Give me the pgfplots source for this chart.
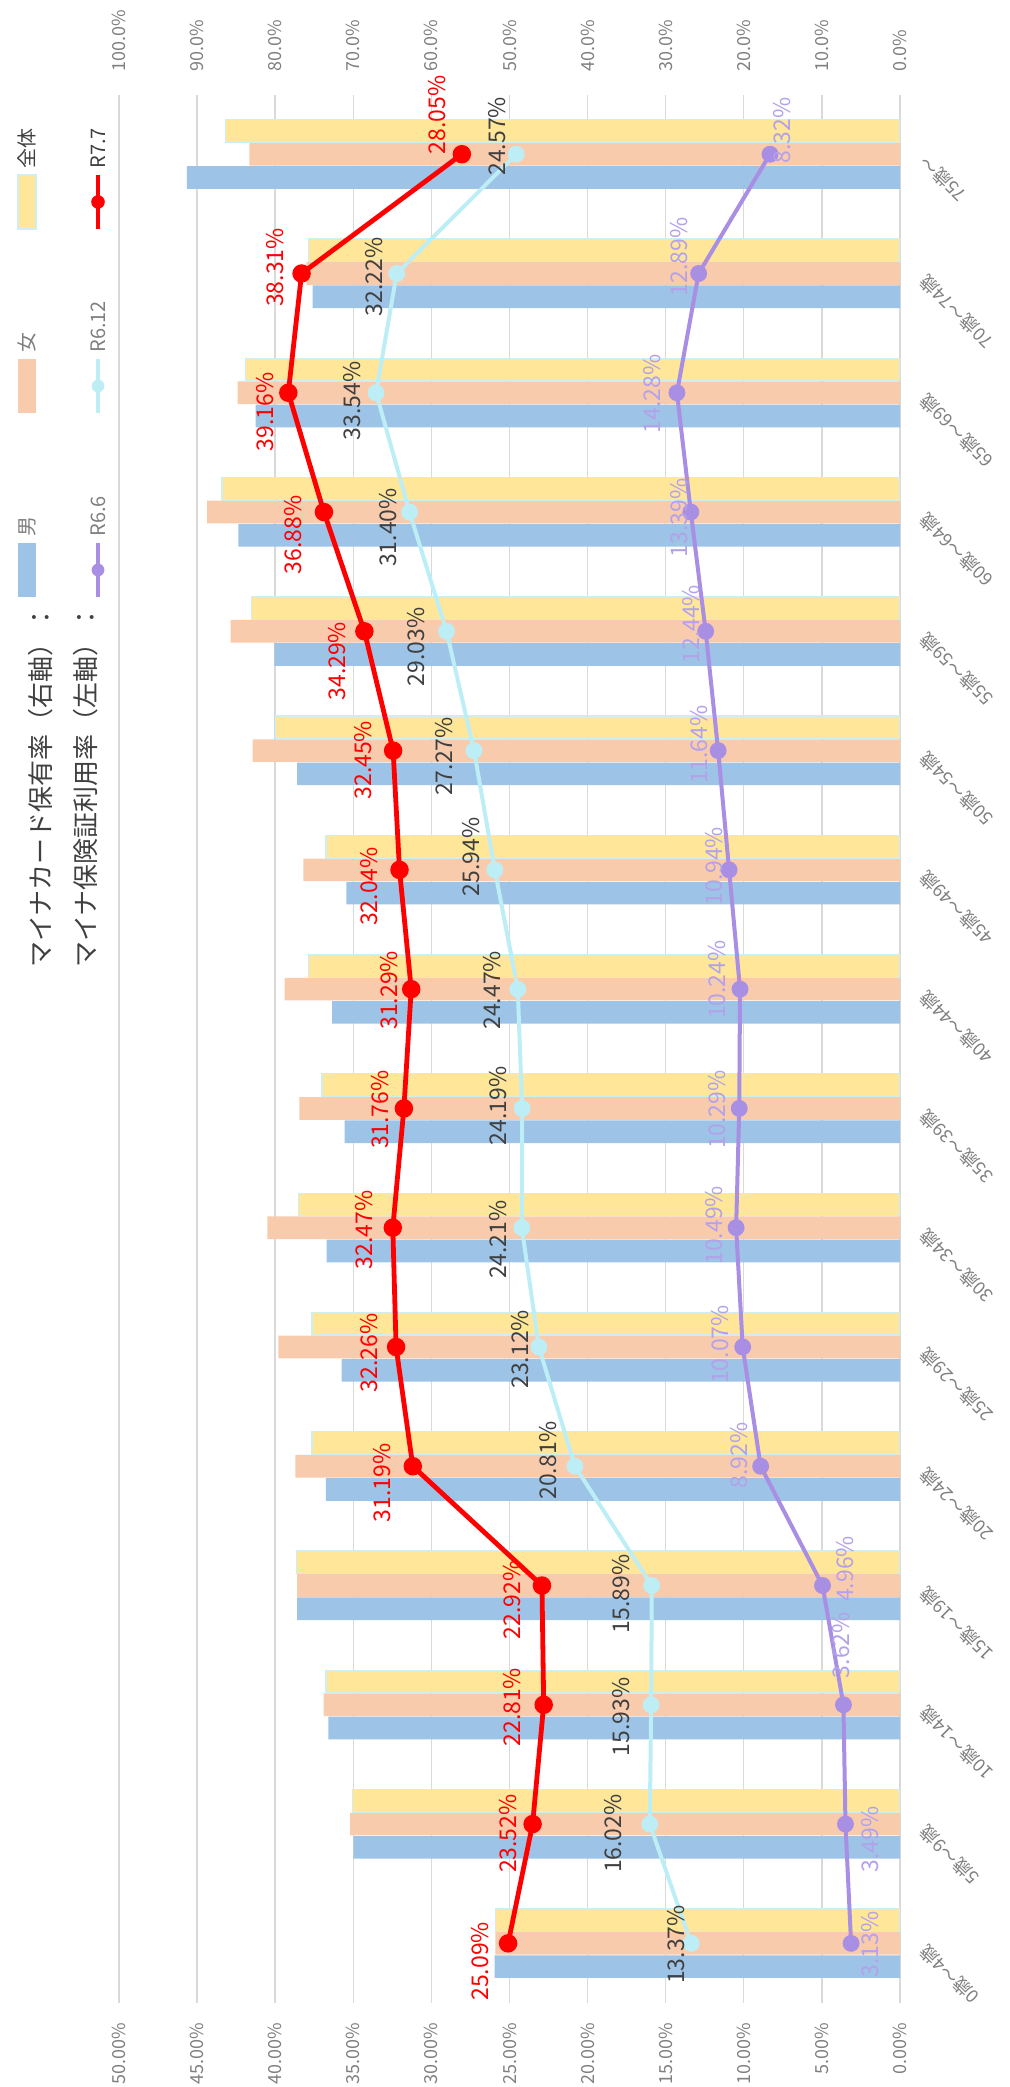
\documentclass[border=0pt]{standalone}
\usepackage{pgfplots}
\pgfplotsset{compat=1.18}
\usepackage{pgfplotstable}
\usepackage{fontspec}
\setmainfont{Noto Sans CJK JP}
\definecolor{cMale}{HTML}{9DC3E6}
\definecolor{cFemale}{HTML}{F8CBAD}
\definecolor{cAll}{HTML}{FFE699}
\definecolor{cAllEdge}{HTML}{CFEFEF}
\definecolor{cRseven}{HTML}{FF0000}
\definecolor{cRsixtw}{HTML}{BDEEF6}
\definecolor{cRsix}{HTML}{A98FE3}
\definecolor{cRsixtxt}{HTML}{B3A2EA}
\definecolor{cGrayTxt}{HTML}{404040}
\definecolor{cTick}{HTML}{808080}
\definecolor{cGrid}{HTML}{D9D9D9}
\newcommand\fs[1]{\fontsize{#1}{#1}\selectfont}

% card possession (right axis, %)
\pgfplotstableread{
cat male female all
0  51.9 51.8 51.8
1  70.0 70.4 70.1
2  73.2 73.8 73.5
3  77.2 77.2 77.3
4  73.5 77.4 75.3
5  71.5 79.6 75.3
6  73.4 81.0 77.0
7  71.1 76.9 74.0
8  72.7 78.8 75.7
9  70.9 76.4 73.5
10 77.2 82.9 80.0
11 80.1 85.7 83.0
12 84.7 88.7 86.8
13 82.5 84.8 83.8
14 75.2 76.0 75.7
15 91.3 83.3 86.4
}\bars

% insurance card usage (left axis, %)
\pgfplotstableread{
cat r66 r612 r77
0  3.13 13.37 25.09
1  3.49 16.02 23.52
2  3.62 15.93 22.81
3  4.96 15.89 22.92
4  8.92 20.81 31.19
5  10.07 23.12 32.26
6  10.49 24.21 32.47
7  10.29 24.19 31.76
8  10.24 24.47 31.29
9  10.94 25.94 32.04
10 11.64 27.27 32.45
11 12.44 29.03 34.29
12 13.39 31.40 36.88
13 14.28 33.54 39.16
14 12.89 32.22 38.31
15 8.32 24.57 28.05
}\lines

% label positions (left-axis units) and values
\pgfplotstableread{
x y v
26.88 -0.15 25.09
25.10 0.92 23.52
24.83 1.98 22.81
24.83 2.88 22.92
33.16 3.86 31.19
33.99 4.95 32.26
34.29 5.98 32.47
33.31 6.99 31.76
32.70 7.99 31.29
33.99 8.86 32.04
34.39 9.92 32.45
36.07 10.75 34.29
38.83 11.81 36.88
40.67 12.84 39.16
39.99 14.05 38.31
29.64 15.33 28.05
}\labR

\pgfplotstableread{
x y v
14.32 -0.01 13.37
18.36 0.92 16.02
17.84 1.90 15.93
17.84 2.93 15.89
22.50 4.05 20.81
24.33 4.98 23.12
25.75 5.90 24.21
25.75 7.02 24.19
26.11 7.99 24.47
27.43 9.11 25.94
29.17 9.95 27.27
31.01 10.87 29.03
32.79 11.87 31.40
35.08 12.93 33.54
33.68 13.97 32.22
25.81 15.15 24.57
}\labC

\pgfplotstableread{
x y v
1.91 -0.01 3.13
1.91 0.87 3.49
3.75 2.50 3.62
3.54 3.14 4.96
10.28 4.09 8.92
11.50 5.02 10.07
11.93 6.02 10.49
11.72 6.99 10.29
11.72 8.08 10.24
11.93 9.03 10.94
12.85 10.05 11.64
13.40 11.06 12.44
14.17 11.95 13.39
15.85 12.99 14.28
14.17 14.14 12.89
7.52 15.20 8.32
}\labP

\pgfplotsset{/pgf/number format/assume math mode=true}

\begin{document}
\begin{tikzpicture}
\useasboundingbox (0,0) rectangle (504.5pt,1043.5pt);

% ---------- bars: possession rate (right axis, top) ----------
\begin{axis}[
  at={(59.5pt,42pt)}, anchor=south west, scale only axis,
  width=390.5pt, height=954.2pt,
  xmin=0, xmax=100, x dir=reverse,
  ymin=-0.5, ymax=15.5,
  axis line style={draw=none}, major tick length=0pt,
  xmajorgrids, major grid style={cGrid, line width=0.7pt},
  xtick={0,10,20,30,40,50,60,70,80,90,100},
  xticklabel pos=upper,
  xticklabel={\pgfmathprintnumber[fixed,fixed zerofill,precision=1]{\tick}\%},
  xticklabel style={yshift=8pt, rotate=90, anchor=west, font=\fs{9}, text=cTick},
  ytick={0,1,...,15},
  yticklabel pos=right,
  yticklabels={0歳～4歳,5歳～9歳,10歳～14歳,15歳～19歳,20歳～24歳,25歳～29歳,30歳～34歳,35歳～39歳,40歳～44歳,45歳～49歳,50歳～54歳,55歳～59歳,60歳～64歳,65歳～69歳,70歳～74歳,75歳～},
  yticklabel style={xshift=9pt, rotate=135, anchor=east, font=\fs{9}, text=cTick},
  bar width=0.19,
]
\addplot[xbar, bar shift=-0.195, fill=cMale, draw=none] table[x=male, y=cat] {\bars};
\addplot[xbar, bar shift=0, fill=cFemale, draw=none] table[x=female, y=cat] {\bars};
\addplot[xbar, bar shift=0.195, fill=cAll, draw=cAllEdge, line width=0.6pt] table[x=all, y=cat] {\bars};
\end{axis}

% ---------- lines: usage rate (left axis, bottom) ----------
\begin{axis}[
  at={(59.5pt,42pt)}, anchor=south west, scale only axis,
  width=390.5pt, height=954.2pt,
  xmin=0, xmax=50, x dir=reverse,
  ymin=-0.5, ymax=15.5,
  axis line style={draw=none}, major tick length=0pt,
  ytick=\empty,
  xtick={0,5,10,15,20,25,30,35,40,45,50},
  xticklabel pos=lower,
  xticklabel={\pgfmathprintnumber[fixed,fixed zerofill,precision=2]{\tick}\%},
  xticklabel style={yshift=-6.5pt, rotate=90, anchor=east, font=\fs{9}, text=cTick},
  clip=false,
]
\addplot[cRsix, line width=2pt, mark=*, mark size=3.2pt, mark options={fill=cRsix, draw=cRsix}] table[x=r66, y=cat] {\lines};
\addplot[cRsixtw, line width=2pt, mark=*, mark size=3.2pt, mark options={fill=cRsixtw, draw=cRsixtw}] table[x=r612, y=cat] {\lines};
\addplot[cRseven, line width=2.4pt, mark=*, mark size=3.4pt, mark options={fill=cRseven, draw=cRseven}] table[x=r77, y=cat] {\lines};

\addplot[draw=none, mark=none, point meta=explicit,
  nodes near coords={\pgfmathprintnumber[fixed,fixed zerofill,precision=2]{\pgfplotspointmeta}\%},
  every node near coord/.append style={anchor=center, rotate=90, font=\fs{11.5}, text=cRsixtxt, inner sep=0pt}]
  table[x=x, y=y, meta=v] {\labP};
\addplot[draw=none, mark=none, point meta=explicit,
  nodes near coords={\pgfmathprintnumber[fixed,fixed zerofill,precision=2]{\pgfplotspointmeta}\%},
  every node near coord/.append style={anchor=center, rotate=90, font=\fs{11.5}, text=cGrayTxt, inner sep=0pt}]
  table[x=x, y=y, meta=v] {\labC};
\addplot[draw=none, mark=none, point meta=explicit,
  nodes near coords={\pgfmathprintnumber[fixed,fixed zerofill,precision=2]{\pgfplotspointmeta}\%},
  every node near coord/.append style={anchor=center, rotate=90, font=\fs{11.5}, text=cRseven, inner sep=0pt}]
  table[x=x, y=y, meta=v] {\labR};
\end{axis}

% ---------- legend (rotated) ----------
\node[rotate=90, anchor=west, inner sep=0pt, font=\fs{13}, text=cGrayTxt] at (20.5pt,559.5pt) {マイナカード保有率（右軸）：};
\node[rotate=90, anchor=west, inner sep=0pt, font=\fs{13}, text=cGrayTxt] at (43pt,559.5pt) {マイナ保険証利用率（左軸）：};

\fill[cMale] (9pt,745pt) rectangle (18pt,772pt);
\fill[cFemale] (9pt,837pt) rectangle (18pt,864pt);
\filldraw[fill=cAll, draw=cAllEdge, line width=0.6pt] (9pt,929pt) rectangle (18pt,956pt);
\node[rotate=90, anchor=west, inner sep=0pt, font=\fs{10}, text=cTick] at (13.5pt,775pt) {男};
\node[rotate=90, anchor=west, inner sep=0pt, font=\fs{10}, text=cTick] at (13.5pt,867pt) {女};
\node[rotate=90, anchor=west, inner sep=0pt, font=\fs{10}, text=cGrayTxt] at (13.5pt,959pt) {全体};

\draw[cRsix, line width=2pt] (49pt,745pt) -- (49pt,772pt);
\fill[cRsix] (49pt,758.5pt) circle (3.2pt);
\draw[cRsixtw, line width=2pt] (49pt,837pt) -- (49pt,864pt);
\fill[cRsixtw] (49pt,850.5pt) circle (3.2pt);
\draw[cRseven, line width=2.4pt] (49pt,929pt) -- (49pt,956pt);
\fill[cRseven] (49pt,942.5pt) circle (3.4pt);
\node[rotate=90, anchor=west, inner sep=0pt, font=\fs{10}, text=cTick] at (49pt,775pt) {R6.6};
\node[rotate=90, anchor=west, inner sep=0pt, font=\fs{10}, text=cTick] at (49pt,867pt) {R6.12};
\node[rotate=90, anchor=west, inner sep=0pt, font=\fs{10}, text=cGrayTxt] at (49pt,959pt) {R7.7};
\end{tikzpicture}
\end{document}
